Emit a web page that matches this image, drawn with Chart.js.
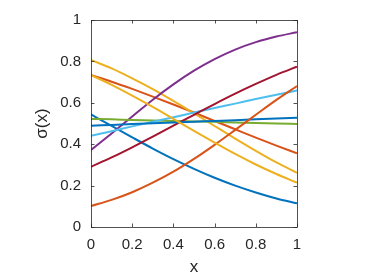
<!DOCTYPE html>
<html>
<head>
<meta charset="utf-8">
<script src="https://cdn.jsdelivr.net/npm/chart.js@4"></script>
<style>
  html, body { margin: 0; padding: 0; background: #fff; }
  #wrap { width: 374px; height: 280px; }
</style>
</head>
<body>
<div id="wrap"><canvas id="chart" width="374" height="280"></canvas></div>
<script>
const xs = [0, 0.1, 0.2, 0.3, 0.4, 0.5, 0.6, 0.7, 0.8, 0.9, 1];

// tick labels, same on both axes
const tickLabels = ['0', '0.2', '0.4', '0.6', '0.8', '1'];

// one array per curve, in the order they were plotted
const blueDown    = [0.544, 0.488, 0.433, 0.379, 0.328, 0.281, 0.238, 0.200, 0.167, 0.138, 0.114];
const orangeDown  = [0.734, 0.702, 0.667, 0.630, 0.592, 0.553, 0.512, 0.472, 0.432, 0.393, 0.356];
const yellowHigh  = [0.807, 0.766, 0.718, 0.666, 0.609, 0.549, 0.488, 0.427, 0.368, 0.312, 0.262];
const purpleUp    = [0.372, 0.452, 0.534, 0.615, 0.689, 0.755, 0.811, 0.857, 0.893, 0.920, 0.941];
const greenFlat   = [0.522, 0.520, 0.517, 0.515, 0.512, 0.510, 0.508, 0.505, 0.503, 0.500, 0.498];
const lightBlueUp = [0.441, 0.463, 0.486, 0.508, 0.530, 0.553, 0.575, 0.596, 0.618, 0.639, 0.659];
const darkRedUp   = [0.291, 0.336, 0.385, 0.437, 0.490, 0.542, 0.594, 0.644, 0.691, 0.735, 0.774];
const blueFlat    = [0.489, 0.493, 0.497, 0.501, 0.505, 0.509, 0.512, 0.516, 0.520, 0.524, 0.528];
const orangeUp    = [0.101, 0.131, 0.168, 0.214, 0.267, 0.329, 0.397, 0.469, 0.542, 0.614, 0.681];
const yellowLow   = [0.734, 0.687, 0.635, 0.580, 0.522, 0.464, 0.408, 0.353, 0.302, 0.256, 0.214];

const series = [blueDown, orangeDown, yellowHigh, purpleUp, greenFlat,
                lightBlueUp, darkRedUp, blueFlat, orangeUp, yellowLow];
const colors = ['#0072BD', '#D95319', '#EDB120', '#7E2F8E', '#77AC30',
                '#4DBEEE', '#A2142F', '#0072BD', '#D95319', '#EDB120'];

const axisColor = '#262626';
const fontFamily = '"Liberation Sans", Arial, Helvetica, sans-serif';

// MATLAB-like box with inward ticks on all four sides
const boxTicks = {
  id: 'boxTicks',
  afterDatasetsDraw(chart) {
    const { ctx, chartArea: a, scales: { x, y } } = chart;
    const len = 3.5;
    ctx.save();
    ctx.strokeStyle = axisColor;
    ctx.lineWidth = 0.8;
    ctx.beginPath();
    ctx.rect(Math.round(a.left) + 0.5, Math.round(a.top) + 0.5,
             Math.round(a.right - a.left), Math.round(a.bottom - a.top));
    x.ticks.forEach(t => {
      const px = Math.round(x.getPixelForValue(t.value)) + 0.5;
      ctx.moveTo(px, a.bottom); ctx.lineTo(px, a.bottom - len);
      ctx.moveTo(px, a.top); ctx.lineTo(px, a.top + len);
    });
    y.ticks.forEach(t => {
      const py = Math.round(y.getPixelForValue(t.value)) + 0.5;
      ctx.moveTo(a.left, py); ctx.lineTo(a.left + len, py);
      ctx.moveTo(a.right, py); ctx.lineTo(a.right - len, py);
    });
    ctx.stroke();
    ctx.restore();
  }
};

const datasets = series.map((vals, i) => ({
  data: vals.map((v, j) => ({ x: xs[j], y: v })),
  borderColor: colors[i],
  borderWidth: 2,
  pointRadius: 0,
  fill: false,
  cubicInterpolationMode: 'monotone',
  order: series.length - i
}));

new Chart(document.getElementById('chart'), {
  type: 'line',
  data: { datasets },
  options: {
    responsive: false,
    animation: false,
    events: [],
    layout: { padding: { left: 0, right: 77, top: 20, bottom: 0 } },
    plugins: { legend: { display: false }, tooltip: { enabled: false } },
    scales: {
      x: {
        type: 'linear',
        min: 0, max: 1,
        grid: { display: false, drawTicks: false },
        border: { display: false },
        ticks: {
          stepSize: 0.2,
          maxRotation: 0,
          padding: 9,
          color: axisColor,
          font: { family: fontFamily, size: 15 },
          callback: (v, i) => tickLabels[i]
        },
        title: {
          display: true,
          text: 'x',
          color: axisColor,
          font: { family: fontFamily, size: 17 },
          padding: { top: 0, bottom: 2 }
        },
        afterFit(scale) { scale.height = 53; }
      },
      y: {
        min: 0, max: 1,
        grid: { display: false, drawTicks: false },
        border: { display: false },
        ticks: {
          stepSize: 0.2,
          padding: 10,
          color: axisColor,
          font: { family: fontFamily, size: 15 },
          callback: (v, i) => tickLabels[i]
        },
        title: {
          display: true,
          text: 'σ(x)',
          color: axisColor,
          font: { family: fontFamily, size: 17 },
          padding: { top: 32, bottom: 0 }
        },
        afterFit(scale) { scale.width = 91; }
      }
    }
  },
  plugins: [boxTicks]
});
</script>
</body>
</html>
